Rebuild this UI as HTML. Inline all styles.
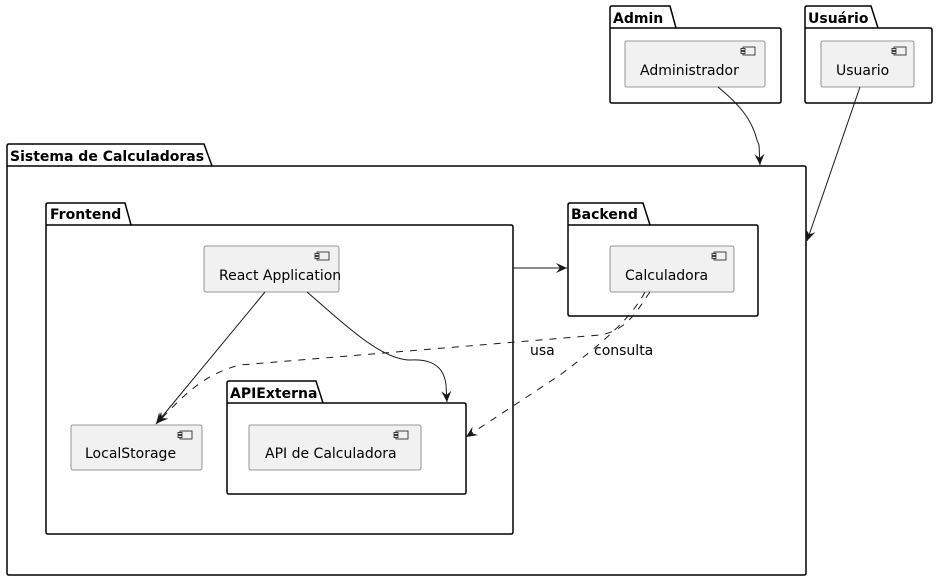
<!DOCTYPE html>
<html><head><meta charset="utf-8"><style>
html,body{margin:0;padding:0;background:#fff;}
svg{display:block;font-family:"DejaVu Sans","Liberation Sans",sans-serif;}
.pk{fill:#fff;stroke:#000;stroke-width:1.5;}
.cm{fill:#f1f1f1;stroke:#7a7a7a;stroke-width:0.8;}
.t{font-size:14px;fill:#000;}
.b{font-size:14px;font-weight:bold;fill:#000;}
.e{fill:none;stroke:#181818;stroke-width:1;}
.d{fill:none;stroke:#181818;stroke-width:1;stroke-dasharray:7,7;}
</style></head><body>
<svg width="937" height="580" viewBox="0 0 937 580">
<defs>
<marker id="a" viewBox="0 0 12 12" refX="11" refY="6" markerWidth="12" markerHeight="12" orient="auto" markerUnits="userSpaceOnUse">
<path d="M0,1 L11,6 L0,11 L4,6 Z" fill="#181818"/></marker>
<g id="ic"><rect x="0" y="0" width="12" height="8" fill="#f1f1f1" stroke="#181818" stroke-width="0.8"/><rect x="-2" y="1.5" width="4" height="2" fill="#f1f1f1" stroke="#181818" stroke-width="0.8"/><rect x="-2" y="4.5" width="4" height="2" fill="#f1f1f1" stroke="#181818" stroke-width="0.8"/></g>
</defs>

<!-- Admin -->
<path class="pk" d="M610,28 V8 Q610,6 612,6 H670 L676,28 H779 Q781,28 781,30 V101 Q781,103 779,103 H612 Q610,103 610,101 Z"/>
<line x1="610" y1="28" x2="676" y2="28" stroke="#000" stroke-width="1.5"/>
<text class="b" x="613" y="23">Admin</text>
<rect class="cm" x="625" y="41" width="140" height="46" rx="2"/>
<use href="#ic" x="743" y="47"/>
<text class="t" x="640" y="75">Administrador</text>

<!-- Usuario -->
<path class="pk" d="M805,28 V8 Q805,6 807,6 H871 L878,28 H930 Q932,28 932,30 V101 Q932,103 930,103 H807 Q805,103 805,101 Z"/>
<line x1="805" y1="28" x2="878" y2="28" stroke="#000" stroke-width="1.5"/>
<text class="b" x="808" y="23">Usuário</text>
<rect class="cm" x="821" y="41" width="93" height="46" rx="2"/>
<use href="#ic" x="894" y="47"/>
<text class="t" x="836" y="75">Usuario</text>

<!-- Sistema -->
<path class="pk" d="M7,166 V146 Q7,144 9,144 H204 L212,166 H804 Q806,166 806,168 V573 Q806,575 804,575 H9 Q7,575 7,573 Z"/>
<line x1="7" y1="166" x2="212" y2="166" stroke="#000" stroke-width="1.5"/>
<text class="b" x="10" y="161">Sistema de Calculadoras</text>

<!-- Frontend -->
<path class="pk" d="M46,225 V205 Q46,203 48,203 H125 L131,225 H511 Q513,225 513,227 V532 Q513,534 511,534 H48 Q46,534 46,532 Z"/>
<line x1="46" y1="225" x2="131" y2="225" stroke="#000" stroke-width="1.5"/>
<text class="b" x="50" y="219">Frontend</text>

<!-- Backend -->
<path class="pk" d="M568,225 V205 Q568,203 570,203 H643 L650,225 H756 Q758,225 758,227 V314 Q758,316 756,316 H570 Q568,316 568,314 Z"/>
<line x1="568" y1="225" x2="650" y2="225" stroke="#000" stroke-width="1.5"/>
<text class="b" x="571" y="219">Backend</text>
<rect class="cm" x="610" y="246" width="124" height="46" rx="2"/>
<use href="#ic" x="714" y="252"/>
<text class="t" x="625" y="280">Calculadora</text>

<!-- APIExterna -->
<path class="pk" d="M227,403 V383 Q227,381 229,381 H316 L323,403 H464 Q466,403 466,405 V492 Q466,494 464,494 H229 Q227,494 227,492 Z"/>
<line x1="227" y1="403" x2="323" y2="403" stroke="#000" stroke-width="1.5"/>
<text class="b" x="230" y="398">APIExterna</text>
<rect class="cm" x="249" y="425" width="172" height="45" rx="2"/>
<use href="#ic" x="396" y="431"/>
<text class="t" x="265" y="458">API de Calculadora</text>

<rect class="cm" x="204" y="246" width="135" height="46" rx="2"/>
<use href="#ic" x="317" y="252"/>
<text class="t" x="219" y="280">React Application</text>

<rect class="cm" x="71" y="425" width="131" height="45" rx="2"/>
<use href="#ic" x="180" y="431"/>
<text class="t" x="85" y="458">LocalStorage</text>

<!-- edges -->
<path class="e" d="M718,87 C740,105 752,120 757,140 L759,145 L760,165" marker-end="url(#a)"/>
<path class="e" d="M860,87 L807,241" marker-end="url(#a)"/>
<path class="e" d="M513,268 L567,268" marker-end="url(#a)"/>
<path class="e" d="M265,292 L156,424" marker-end="url(#a)"/>
<path class="e" d="M307,292 C340,320 380,360 410,360 C440,358 445,375 446,385 L447,402" marker-end="url(#a)"/>
<path class="d" d="M650,292 C640,305 630,330 600,335 L240,365 C200,375 180,400 157,423" marker-end="url(#a)"/>
<path class="d" d="M645,292 C630,320 600,345 560,375 L466,437" marker-end="url(#a)"/>
<text class="t" x="530" y="355">usa</text>
<text class="t" x="594" y="355">consulta</text>
</svg>
</body></html>
